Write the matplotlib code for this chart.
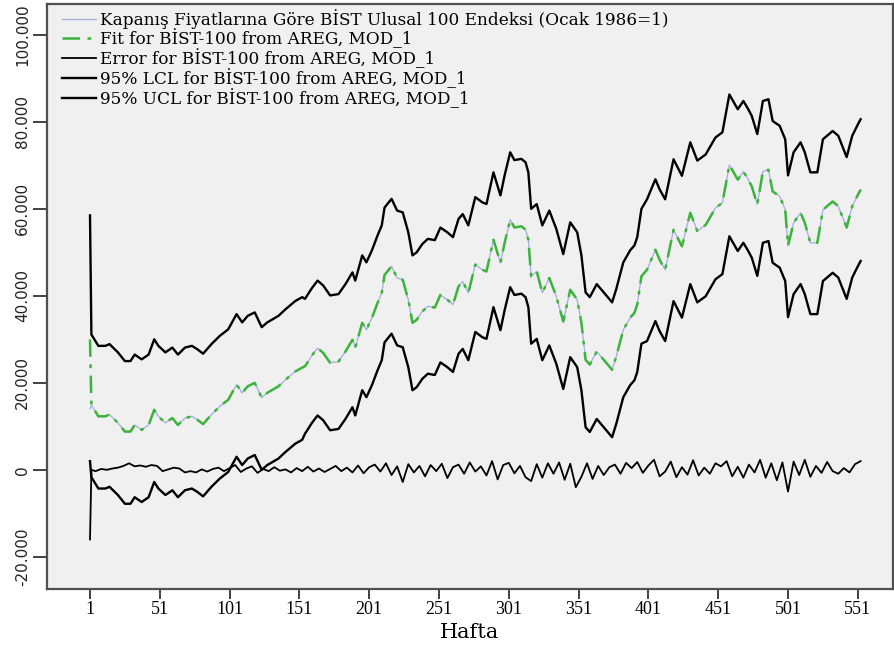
import matplotlib
matplotlib.use('Agg')
import matplotlib.pyplot as plt
from matplotlib.ticker import FuncFormatter

# haftalar (okunan noktalar)
hafta = [1, 2, 7, 12, 15, 21, 26, 30, 33, 38, 43, 47, 50, 55, 60, 64, 69, 74, 78, 82,
         88, 94, 100, 106, 110, 114, 119, 124, 128, 136, 141, 148, 153,
         155, 160, 164, 168, 173, 179, 184, 189, 191, 196, 199, 203, 207, 210, 212, 217,
         221, 225, 229, 232, 235, 239, 243, 248, 252, 257, 261, 265, 268, 272, 277, 282,
         285, 290, 295, 298, 302, 305, 310, 313, 315, 317, 321, 325, 330, 335, 340, 345,
         350, 353, 356, 359, 364, 369, 375, 378, 383, 388, 391, 393, 396,
         400, 406, 409, 413, 419, 425, 431, 436, 442, 449, 454, 459, 465, 469, 472, 475,
         479, 483, 487, 490, 495, 499, 501, 505, 510, 513, 517, 522, 526, 533, 537, 543,
         547, 551, 553]

fit = [30000, 14900, 12300, 12300, 12700, 10800, 8800, 8800, 10300, 9200, 10300, 13800, 12300, 10800, 11900, 10300, 11900, 12300, 11500, 10500,
       12700, 14600, 16100, 19600, 17700, 19200, 20000, 16600, 17700, 19200, 20700, 22600, 23500,
       23800, 26300, 28000, 26900, 24600, 24900, 27200, 29900, 28000, 33800, 32200, 35000, 38400, 40700, 44800, 46800,
       44100, 43700, 39100, 33800, 34500, 36400, 37600, 37300, 40200, 39100, 38000, 42200, 43300, 40700, 47200, 46000,
       45600, 52900, 47600, 52200, 57500, 55700, 56000, 55200, 52900, 44500, 45600, 40700, 44100, 39900, 34100, 41400,
       39100, 33800, 25300, 24200, 27200, 25300, 23000, 26100, 32200, 35000, 36100, 38000, 44500,
       46000, 50600, 48300, 46000, 55200, 51400, 59100, 54900, 56300, 60200, 61400, 70100, 66700, 68600, 67000, 65200,
       61000, 68600, 69000, 64000, 62900, 59800, 51500, 56800, 59100, 56800, 52200, 52200, 59800, 61700, 60600, 55700,
       60600, 63200, 64400]

gercek = [14000, 14900, 12300, 12300, 12700, 10800, 8800, 8800, 10300, 9200, 10300, 13800, 12300, 10800, 11900, 10300, 11900, 12300, 11500, 10500,
          12700, 14600, 16100, 19600, 17700, 19200, 20000, 16600, 17700, 19200, 20700, 22600, 23500,
          23800, 26300, 28000, 26900, 24600, 24900, 27200, 29900, 28000, 33800, 32200, 35000, 38400, 40700, 44800, 46800,
          44100, 43700, 39100, 33800, 34500, 36400, 37600, 37300, 40200, 39100, 38000, 42200, 43300, 40700, 47200, 46000,
          45600, 52900, 47600, 52200, 57500, 55700, 56000, 55200, 52900, 44500, 45600, 40700, 44100, 39900, 34100, 41400,
          39100, 33800, 25300, 24200, 27200, 25300, 23000, 26100, 32200, 35000, 36100, 38000, 44500,
          46000, 50600, 48300, 46000, 55200, 51400, 59100, 54900, 56300, 60200, 61400, 70100, 66700, 68600, 67000, 65200,
          61000, 68600, 69000, 64000, 62900, 59800, 51500, 56800, 59100, 56800, 52200, 52200, 59800, 61700, 60600, 55700,
          60600, 63200, 64400]

ucl = [58500, 31100, 28500, 28500, 28900, 27000, 25000, 25000, 26500, 25400, 26500, 30000, 28500, 27000, 28100, 26500, 28100, 28500, 27700, 26700,
       28900, 30800, 32300, 35800, 33900, 35400, 36200, 32800, 33900, 35400, 36900, 38800, 39700,
       39300, 41800, 43500, 42400, 40100, 40400, 42700, 45400, 43500, 49300, 47700, 50500, 53900, 56200, 60300, 62300,
       59600, 59200, 54600, 49300, 50000, 51900, 53100, 52800, 55700, 54600, 53500, 57700, 58800, 56200, 62700, 61500,
       61100, 68400, 63100, 67700, 73000, 71200, 71500, 70700, 68400, 60000, 61100, 56200, 59600, 55400, 49600, 56900,
       54600, 49300, 40800, 39700, 42700, 40800, 38500, 41600, 47700, 50500, 51600, 53500, 60000,
       62200, 66800, 64500, 62200, 71400, 67600, 75300, 71100, 72500, 76400, 77600, 86300, 82900, 84800, 83200, 81400,
       77200, 84800, 85200, 80200, 79100, 76000, 67700, 73000, 75300, 73000, 68400, 68400, 76000, 77900, 76800, 71900,
       76800, 79400, 80600]

lcl = [2000, -1700, -4300, -4300, -3900, -5800, -7800, -7800, -6300, -7400, -6300, -2800, -4300, -5800, -4700, -6300, -4700, -4300, -5100, -6100,
       -3900, -2000, -500, 3000, 1100, 2600, 3400, 0, 1100, 2600, 4100, 6000, 6900,
       8300, 10800, 12500, 11400, 9100, 9400, 11700, 14400, 12500, 18300, 16700, 19500, 22900, 25200, 29300, 31300,
       28600, 28200, 23600, 18300, 19000, 20900, 22100, 21800, 24700, 23600, 22500, 26700, 27800, 25200, 31700, 30500,
       30100, 37400, 32100, 36700, 42000, 40200, 40500, 39700, 37400, 29000, 30100, 25200, 28600, 24400, 18600, 25900,
       23600, 18300, 9800, 8700, 11700, 9800, 7500, 10600, 16700, 19500, 20600, 22500, 29000,
       29600, 34200, 31900, 29600, 38800, 35000, 42700, 38500, 39900, 43800, 45000, 53700, 50300, 52200, 50600, 48800,
       44600, 52200, 52600, 47600, 46500, 43400, 35100, 40400, 42700, 40400, 35800, 35800, 43400, 45300, 44200, 39300,
       44200, 46800, 48000]

hata_hafta = [1, 2] + list(range(5, 554, 4))
hata = [-16000, 0,
        -300, 200, 0, 300, 500, 900, 1500, 800, 1000, 700, 1100, 900, -300, 100, 500, 300, -600, -300, -600,
        100, -400, 200, 500, -300, 400, 1100, -500, 300, 800, -700, 200, -300, 600, -200, 100, -600, 400, -300,
        700, -400, 300, -500, 200, 900, -300, 500, -600, 1000, -800, 600, 1200, -400, 1500, -1200, 800, -2800,
        1300, -600, 900, -1500, 1100, -300, 1400, -1900, 600, 1200, -900, 1700, -400, 800, -1300, 2000, -2200,
        1100, 1600, -800, 900, -1700, -2600, 1300, -1800, 1500, -900, 1700, -2300, 1400, -4000, -1600, 1500,
        -2100, 900, -1200, 600, 1200, -900, 1600, 400, 1800, -700, 1000, 2300, -1500, -400, 1900, -1700, 600,
        -1100, 2200, -1300, 500, -900, 1500, 800, 2000, -1500, 700, -1800, 1200, -600, 2300, -1800, 1500, -2400,
        1700, -5000, 1900, -1200, 2300, -1600, 900, -700, 1800, -300, -900, 400, -600, 1300, 2000]

assert len(hafta) == len(fit) == len(gercek) == len(ucl) == len(lcl)
assert len(hata_hafta) == len(hata), (len(hata_hafta), len(hata))

etiketler = ['Kapanış Fiyatlarına Göre BİST Ulusal 100 Endeksi (Ocak 1986=1)',
             'Fit for BİST-100 from AREG, MOD_1',
             'Error for BİST-100 from AREG, MOD_1',
             '95% LCL for BİST-100 from AREG, MOD_1',
             '95% UCL for BİST-100 from AREG, MOD_1']

fig = plt.figure(figsize=(8.95, 6.47), dpi=100)
ax = fig.add_axes([47 / 895, 1 - 589 / 647, 846 / 895, 585 / 647])
ax.set_facecolor('#f0f0f0')

ax.plot(hafta, gercek, color='#a4acdf', lw=0.9, label=etiketler[0])
ax.plot(hafta, fit, color='#3cb43c', lw=1.8, dashes=(7, 3, 1.5, 3), label=etiketler[1])
ax.plot(hata_hafta, hata, color='black', lw=1.3, label=etiketler[2])
ax.plot(hafta, lcl, color='black', lw=1.7, label=etiketler[3])
ax.plot(hafta, ucl, color='black', lw=1.7, label=etiketler[4])

ax.set_xlim(-29.8, 576.2)
ax.set_ylim(-27400, 107100)
ax.set_xticks(list(range(1, 552, 50)))
ax.set_yticks(list(range(-20000, 100001, 20000)))
ax.yaxis.set_major_formatter(FuncFormatter(lambda v, p: f'{int(v):,}'.replace(',', '.')))

for sp in ax.spines.values():
    sp.set_color('#505050')
    sp.set_linewidth(1.6)

ax.tick_params(axis='x', direction='out', length=7, width=1.3, color='#333333', pad=2)
ax.tick_params(axis='y', direction='out', length=10, width=1.3, color='#333333', pad=2)
for lab in ax.get_xticklabels():
    lab.set_family('Liberation Serif')
    lab.set_fontsize(13)
for lab in ax.get_yticklabels():
    lab.set_family(['Liberation Sans Narrow', 'DejaVu Sans'])
    lab.set_fontsize(11)
    lab.set_rotation(90)
    lab.set_va('center')
    lab.set_color('#222222')

ax.set_xlabel('Hafta', family='DejaVu Serif', fontsize=15, labelpad=3)

ax.legend(loc='upper left', bbox_to_anchor=(0.018, 0.992), frameon=False,
          prop={'family': 'DejaVu Serif', 'size': 12.2}, handlelength=2.0,
          handletextpad=0.25, labelspacing=0.0, borderpad=0, borderaxespad=0)

fig.savefig('out.png', dpi=100)
